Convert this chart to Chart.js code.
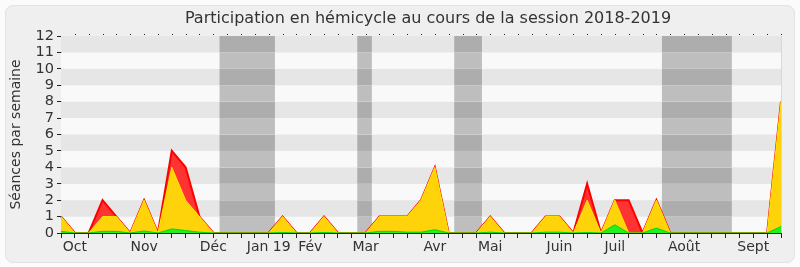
<!DOCTYPE html>
<html>
<head>
<meta charset="utf-8">
<script src="https://cdn.jsdelivr.net/npm/chart.js@4/dist/chart.umd.min.js"></script>
<style>
  html, body { margin: 0; padding: 0; background: #fbfbfb; }
  #wrap { position: relative; width: 800px; height: 267px; }
  #frame {
    position: absolute; left: 5px; top: 5px; width: 788px; height: 256px;
    background: #efefef; border: 1px solid #e2e2e2; border-radius: 8px;
  }
  #chart { position: absolute; left: 0; top: 0; }
</style>
</head>
<body>
<div id="wrap">
  <div id="frame"></div>
  <canvas id="chart" width="800" height="267"></canvas>
</div>
<script>
// one entry per week, session 2018-2019
const weekLabels = ['', 'Oct', '', '', '', '', 'Nov', '', '', '', '', 'Déc', '', '', '', 'Jan 19',
  '', '', 'Fév', '', '', '', 'Mar', '', '', '', '', 'Avr', '', '', '', 'Mai', '', '', '', '',
  'Juin', '', '', '', 'Juil', '', '', '', '', 'Août', '', '', '', '', 'Sept', '', ''];

const presences = [1, 0, 0, 2, 1, 0, 2, 0, 5, 4, 1, 0, 0, 0, 0, 0, 1, 0, 0, 1, 0, 0, 0, 1, 1, 1,
  2, 4, 0, 0, 0, 1, 0, 0, 0, 1, 1, 0, 3, 0, 2, 2, 0, 2, 0, 0, 0, 0, 0, 0, 0, 0, 8];
const participations = [1, 0, 0, 1, 1, 0, 2, 0, 4, 2, 1, 0, 0, 0, 0, 0, 1, 0, 0, 1, 0, 0, 0, 1, 1, 1,
  2, 4, 0, 0, 0, 1, 0, 0, 0, 1, 1, 0, 2, 0, 2, 0, 0, 2, 0, 0, 0, 0, 0, 0, 0, 0, 8];
const interventions = [0.1, 0, 0, 0.1, 0.1, 0, 0.12, 0, 0.25, 0.15, 0.05, 0, 0, 0, 0, 0, 0.03, 0, 0, 0.03,
  0, 0, 0, 0.1, 0.1, 0.05, 0.05, 0.2, 0, 0, 0, 0.05, 0, 0, 0, 0.05, 0.05, 0, 0.03, 0, 0.5, 0, 0, 0.3,
  0, 0, 0, 0, 0, 0, 0, 0, 0.4];

// parliamentary recesses, in week units
const vacances = [[11.45, 15.45], [21.4, 22.45], [28.4, 30.4], [43.4, 48.45]];

const TITLE = 'Participation en hémicycle au cours de la session 2018-2019';
const FONT = "'DejaVu Sans', Verdana, sans-serif";

const background = {
  id: 'background',
  beforeDatasetsDraw(chart) {
    const { ctx, chartArea: a, scales: { x, y } } = chart;
    ctx.save();
    for (let v = 0; v < 12; v++) {
      const top = y.getPixelForValue(v + 1), bot = y.getPixelForValue(v);
      ctx.fillStyle = v % 2 ? '#e6e6e6' : '#f9f9f9';
      ctx.fillRect(a.left, top, a.right - a.left, bot - top);
      vacances.forEach(([s, e]) => {
        const x0 = x.getPixelForValue(s), x1 = x.getPixelForValue(e);
        ctx.fillStyle = v % 2 ? '#adadad' : '#bebebe';
        ctx.fillRect(x0, top, x1 - x0, bot - top);
      });
    }
    ctx.restore();
  },
  afterDraw(chart) {
    const { ctx, chartArea: a, scales: { x } } = chart;
    ctx.save();
    ctx.fillStyle = '#222';
    for (let i = 1; i < weekLabels.length; i++) {
      ctx.fillRect(Math.round(x.getPixelForValue(i)), a.top - 2, 1, 1);
    }
    ctx.fillStyle = '#d8d8d8';
    ctx.fillRect(a.right, a.top, 1, a.bottom - a.top);
    // title sits a little right of the plot centre
    ctx.fillStyle = '#333';
    ctx.font = '16px ' + FONT;
    ctx.textAlign = 'center';
    ctx.textBaseline = 'middle';
    ctx.fillText(TITLE, (a.left + a.right) / 2 + 7, 19);
    ctx.restore();
  }
};

new Chart(document.getElementById('chart'), {
  type: 'line',
  data: {
    labels: weekLabels,
    datasets: [
      { label: 'Présences', data: presences, order: 3, fill: 'origin',
        backgroundColor: '#ff3333', borderColor: '#ff0000', borderWidth: 2 },
      { label: 'Participations', data: participations, order: 2, fill: 'origin',
        backgroundColor: '#ffd30a', borderColor: '#ffe600', borderWidth: 1 },
      { label: 'Interventions', data: interventions, order: 1, fill: 'origin',
        backgroundColor: '#22f022', borderColor: '#00d800', borderWidth: 1 }
    ]
  },
  options: {
    responsive: false,
    animation: false,
    devicePixelRatio: 1,
    elements: { line: { tension: 0 }, point: { radius: 0 } },
    layout: { padding: { left: 8, right: 19, top: 36, bottom: 0 } },
    plugins: {
      legend: { display: false },
      tooltip: { enabled: false },
      title: { display: false }
    },
    scales: {
      x: {
        offset: false,
        border: { color: '#222' },
        grid: { drawOnChartArea: false, tickLength: 5, color: '#222' },
        ticks: { autoSkip: false, maxRotation: 0, padding: 1, color: '#333',
          font: { family: FONT, size: 14 } },
        afterFit(scale) { scale.height = 34; }
      },
      y: {
        min: 0, max: 12,
        border: { color: '#222' },
        grid: { drawOnChartArea: false, tickLength: 4, color: '#222' },
        ticks: { stepSize: 1, autoSkip: false, padding: 3, color: '#333',
          font: { family: FONT, size: 14.5 } },
        title: { display: true, text: 'Séances par semaine', color: '#333',
          font: { family: FONT, size: 14 }, padding: { top: 0, bottom: 0 } },
        afterFit(scale) { scale.width = 53; }
      }
    }
  },
  plugins: [background]
});
</script>
</body>
</html>
